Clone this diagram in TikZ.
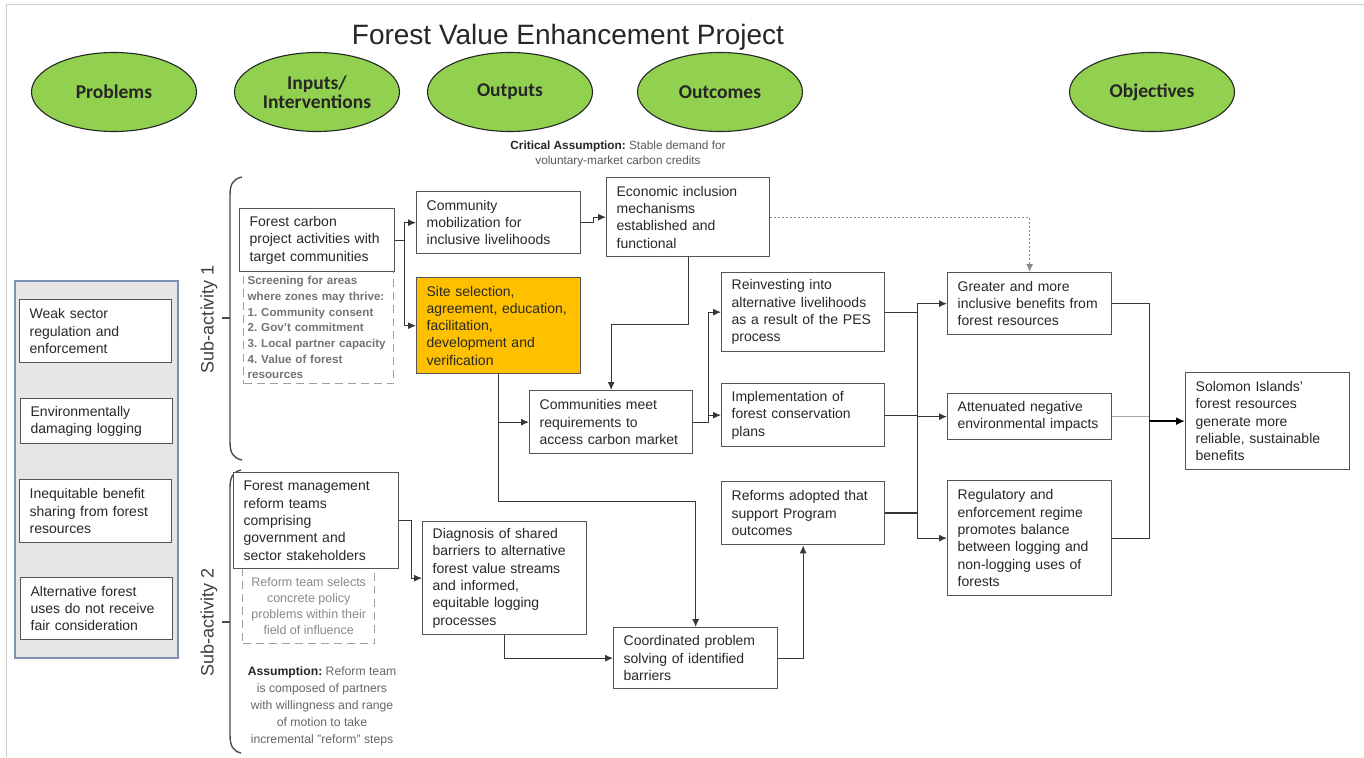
\documentclass[tikz,border=0pt]{standalone}
\usepackage{fontspec}
\setmainfont{Liberation Sans}
\newfontfamily\calib{Carlito}
\usetikzlibrary{arrows.meta,shapes.geometric}
\definecolor{ellgreen}{RGB}{146,208,80}
\definecolor{gold}{RGB}{255,192,0}
\definecolor{panelfill}{RGB}{231,230,230}
\definecolor{panelborder}{RGB}{125,145,180}
\definecolor{boxborder}{RGB}{85,85,85}
\definecolor{txt}{RGB}{40,40,40}
\definecolor{linec}{RGB}{55,55,55}
\definecolor{dashc}{RGB}{160,160,160}
\definecolor{graytxt}{RGB}{115,115,115}
\frenchspacing
\hyphenpenalty=10000
\exhyphenpenalty=10000
\tikzset{
  box/.style={draw=boxborder, line width=1.3pt, fill=white, anchor=north west,
    inner xsep=10pt, inner ysep=2pt, align=left, text=txt,
    font=\fontsize{14}{17.3}\selectfont},
  ell/.style={ellipse, draw=black!85, line width=1.1pt, fill=ellgreen,
    minimum width=165pt, minimum height=79pt, inner sep=0pt, align=center,
    text=black!85, font=\calib\bfseries\fontsize{19.5}{20}\selectfont},
  dbox/.style={draw=dashc, line width=1.4pt, dash pattern=on 8pt off 5pt,
    anchor=north west, inner ysep=1pt},
  conn/.style={draw=linec, line width=1pt, -{Latex[length=8pt,width=7pt]}},
  plainline/.style={draw=linec, line width=1pt},
  brace/.style={draw=black!70, line width=1.4pt},
  sublabel/.style={rotate=90, text=black!75, font=\fontsize{18}{20}\selectfont}
}
\begin{document}
\begin{tikzpicture}[x=1pt,y=-1pt]
\useasboundingbox (0,0) rectangle (1364,757);
% frame
\draw[black!20, line width=0.8pt] (6,757) -- (6,4) -- (1364,4);
% title
\node[anchor=base, text=black!85, font=\fontsize{28}{30}\selectfont] (title) at (568,45) {Forest Value Enhancement Project};
% header ellipses
\node[ell] (hProb) at (114,92) {Problems};
\node[ell] (hInp) at (317,92) {Inputs/\\[-1pt]Interventions};
\node[ell] (hOut) at (510,92) {Outputs};
\node[ell] (hOutc) at (720,92) {Outcomes};
\node[ell] (hObj) at (1152,92) {Objectives};
\node[align=center, text=black!65, font=\fontsize{11.8}{15}\selectfont] (crit) at (618,153.5)
  {\textcolor{black!85}{\textbf{Critical Assumption:}} Stable demand for\\voluntary-market carbon credits};

% problems panel
\node[draw=panelborder, fill=panelfill, line width=1.5pt, anchor=north west, minimum width=163pt, minimum height=377pt] (panel) at (14,280) {};
\node[box, minimum width=152pt, text width=132pt, minimum height=63pt] (W1) at (19,299) {Weak sector\\regulation and\\enforcement};
\node[box, minimum width=152pt, text width=132pt, minimum height=45pt] (W2) at (20,398) {Environmentally\\damaging logging};
\node[box, minimum width=152pt, text width=132pt, minimum height=63pt] (W3) at (19,479) {Inequitable benefit\\sharing from forest\\resources};
\node[box, minimum width=152pt, text width=132pt, minimum height=62pt] (W4) at (20,577) {Alternative forest\\uses do not receive\\fair consideration};

% braces and sub-activity labels
\draw[brace] (242,177) .. controls (233,179) and (230,184) .. (230,195) -- (230,442) .. controls (230,453) and (233,458) .. (242,460);
\draw[brace] (230,318) -- (222,318);
\draw[brace] (241,470) .. controls (233,472) and (230,477) .. (230,488) -- (230,735) .. controls (230,746) and (233,751) .. (241,753);
\draw[brace] (230,622) -- (222,622);
\node[sublabel] (sub1) at (209,319) {Sub-activity 1};
\node[sublabel] (sub2) at (209,622) {Sub-activity 2};

% dashed note boxes
\node[dbox, minimum width=150pt, minimum height=112pt, text width=142pt, inner xsep=4pt, align=left,
  font=\fontsize{11.6}{15.7}\selectfont, text=graytxt] (scr) at (243,271)
  {\textbf{Screening for areas}\\\textbf{where zones may thrive:}\\\textbf{1. Community consent}\\\textbf{2. Gov't commitment}\\\textbf{3. Local partner capacity}\\\textbf{4. Value of forest}\\\textbf{resources}};
\node[dbox, minimum width=132pt, minimum height=75pt, align=center,
  font=\fontsize{12.5}{16}\selectfont, text=graytxt!85] (rts) at (242,568)
  {Reform team selects\\concrete policy\\problems within their\\field of influence};
\node[align=center, text=black!60, font=\fontsize{12.2}{17}\selectfont] (assum) at (322,706)
  {\textcolor{black!85}{\textbf{Assumption:}} Reform team\\is composed of partners\\with willingness and range\\of motion to take\\incremental "reform" steps};

% main boxes
\node[box, minimum width=155pt, text width=135pt, minimum height=63pt] (FC) at (239,208) {Forest carbon\\project activities with\\target communities};
\node[box, minimum width=164pt, text width=144pt, minimum height=62pt] (CM) at (416,191) {Community\\mobilization for\\inclusive livelihoods};
\node[box, fill=gold, minimum width=164pt, text width=144pt, minimum height=96pt] (SS) at (416,277) {Site selection,\\agreement, education,\\facilitation,\\development and\\verification};
\node[box, minimum width=163pt, text width=143pt, minimum height=79pt] (EI) at (606,177) {Economic inclusion\\mechanisms\\established and\\functional};
\node[box, minimum width=163pt, text width=143pt, minimum height=63pt] (CMeet) at (529,390) {Communities meet\\requirements to\\access carbon market};
\node[box, minimum width=163pt, text width=143pt, minimum height=79pt] (RI) at (721,272) {Reinvesting into\\alternative livelihoods\\as a result of the PES\\process};
\node[box, minimum width=163pt, text width=143pt, minimum height=63pt] (IM) at (721,383) {Implementation of\\forest conservation\\plans};
\node[box, minimum width=163pt, text width=143pt, minimum height=63pt] (RA) at (721,481) {Reforms adopted that\\support Program\\outcomes};
\node[box, minimum width=164pt, text width=144pt, minimum height=62pt] (GB) at (947,272) {Greater and more\\inclusive benefits from\\forest resources};
\node[box, minimum width=164pt, text width=144pt, minimum height=46pt] (ATT) at (947,393) {Attenuated negative\\environmental impacts};
\node[box, minimum width=164pt, text width=144pt, minimum height=115pt] (REG) at (947,480) {Regulatory and\\enforcement regime\\promotes balance\\between logging and\\non-logging uses of\\forests};
\node[box, minimum width=164pt, text width=144pt, minimum height=97pt] (SOL) at (1185,372) {Solomon Islands’\\forest resources\\generate more\\reliable, sustainable\\benefits};
\node[box, minimum width=165pt, text width=145pt, minimum height=96pt] (FM) at (233,472) {Forest management\\reform teams\\comprising\\government and\\sector stakeholders};
\node[box, minimum width=164pt, text width=144pt, minimum height=113pt] (DG) at (422,521) {Diagnosis of shared\\barriers to alternative\\forest value streams\\and informed,\\equitable logging\\processes};
\node[box, minimum width=164pt, text width=144pt, minimum height=61pt] (CPS) at (613,627) {Coordinated problem\\solving of identified\\barriers};

% bus coordinates
\coordinate (busL) at (917,300);
\coordinate (busR) at (1149,420);

% connectors
\draw[conn] (FC.east) -- ++(9,0) |- (CM.west);
\draw[conn] (FC.east) -- ++(9,0) |- (SS.west);
\draw[conn] (CM.east) -- ++(12,0) |- (EI.west);
\draw[draw=black!45, line width=1pt, dash pattern=on 2pt off 2pt, -{Latex[length=8pt,width=7pt]}] (EI.east) -| (GB.north);
\draw[conn] (EI.south) -- ++(0,67) -| (CMeet.north);
\draw[conn] (SS.south) |- (CMeet.west);
\draw[conn] (SS.south) -- ++(0,127) -| (CPS.north);
\draw[conn] (CMeet.east) -- ++(15,0) |- (RI.west);
\draw[conn] (CMeet.east) -- ++(15,0) |- (IM.west);
\draw[plainline] (RI.east) -- (RI.east -| busL);
\draw[plainline] (IM.east) -- (IM.east -| busL);
\draw[draw=linec, line width=2pt] (RA.east) -- (RA.east -| busL);
\draw[plainline] (GB.west -| busL) -- (REG.west -| busL);
\draw[conn] (GB.west -| busL) -- (GB.west);
\draw[conn] (ATT.west -| busL) -- (ATT.west);
\draw[conn] (REG.west -| busL) -- (REG.west);
\draw[plainline] (GB.east) -- (GB.east -| busR) -- (REG.east -| busR) -- (REG.east);
\draw[draw=black!35, line width=1pt] (ATT.east) -- (ATT.east -| busR);
\draw[draw=black, line width=2.2pt, -{Latex[length=9pt,width=8pt]}] (SOL.west -| busR) -- (SOL.west);
\draw[conn] (FM.east) -- ++(12,0) |- (DG.west);
\draw[conn] (DG.south) |- (CPS.west);
\draw[conn] (CPS.east) -| (RA.south);
\end{tikzpicture}
\end{document}
